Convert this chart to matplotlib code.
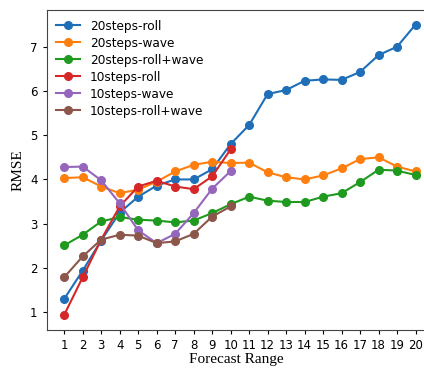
import matplotlib
matplotlib.use("Agg")
import matplotlib.pyplot as plt

# Forecast steps
steps20 = list(range(1, 21))
steps10 = list(range(1, 11))

roll_20 = [1.30, 1.94, 2.62, 3.25, 3.61, 3.86, 4.00, 4.00, 4.23, 4.80,
           5.23, 5.93, 6.02, 6.23, 6.26, 6.25, 6.43, 6.81, 7.00, 7.50]
wave_20 = [4.03, 4.05, 3.84, 3.69, 3.77, 3.95, 4.18, 4.33, 4.40, 4.37,
           4.38, 4.16, 4.05, 4.00, 4.09, 4.25, 4.46, 4.50, 4.29, 4.18]
rollwave_20 = [2.51, 2.75, 3.05, 3.15, 3.09, 3.07, 3.03, 3.07, 3.24, 3.44,
               3.61, 3.52, 3.49, 3.49, 3.61, 3.69, 3.94, 4.22, 4.20, 4.10]
roll_10 = [0.94, 1.79, 2.64, 3.39, 3.84, 3.97, 3.84, 3.78, 4.07, 4.68]
wave_10 = [4.28, 4.29, 3.98, 3.46, 2.85, 2.56, 2.77, 3.24, 3.79, 4.19]
rollwave_10 = [1.79, 2.26, 2.64, 2.75, 2.73, 2.56, 2.60, 2.77, 3.16, 3.39]

series = [
    ("20steps-roll", steps20, roll_20, "#1f6fb8"),
    ("20steps-wave", steps20, wave_20, "#ff7f0e"),
    ("20steps-roll+wave", steps20, rollwave_20, "#1f9a1f"),
    ("10steps-roll", steps10, roll_10, "#d62728"),
    ("10steps-wave", steps10, wave_10, "#9467bd"),
    ("10steps-roll+wave", steps10, rollwave_10, "#8c564b"),
]

fig = plt.figure(figsize=(4.24, 3.69), dpi=100)
ax = fig.add_axes([0.110, 0.106, 0.895, 0.867])

for label, x, y, c in series:
    ax.plot(x, y, marker="o", markersize=5.5, linewidth=1.5, color=c, label=label)

ax.set_xlim(0.05, 20.57)
ax.set_ylim(0.6, 7.83)
ax.set_xticks(steps20)
ax.set_yticks([1, 2, 3, 4, 5, 6, 7])
ax.tick_params(labelsize=8.5, length=3)
for s in ax.spines.values():
    s.set_color("#444444")

serif = ["Liberation Serif", "DejaVu Serif"]
ax.set_xlabel("Forecast Range", family=serif, fontsize=11, labelpad=1)
ax.set_ylabel("RMSE", family=serif, fontsize=11, labelpad=4)

ax.legend(loc="upper left", frameon=False, fontsize=8.7, handlelength=2.0,
          borderaxespad=0.4, labelspacing=0.33)

fig.savefig("out.png", dpi=100)
